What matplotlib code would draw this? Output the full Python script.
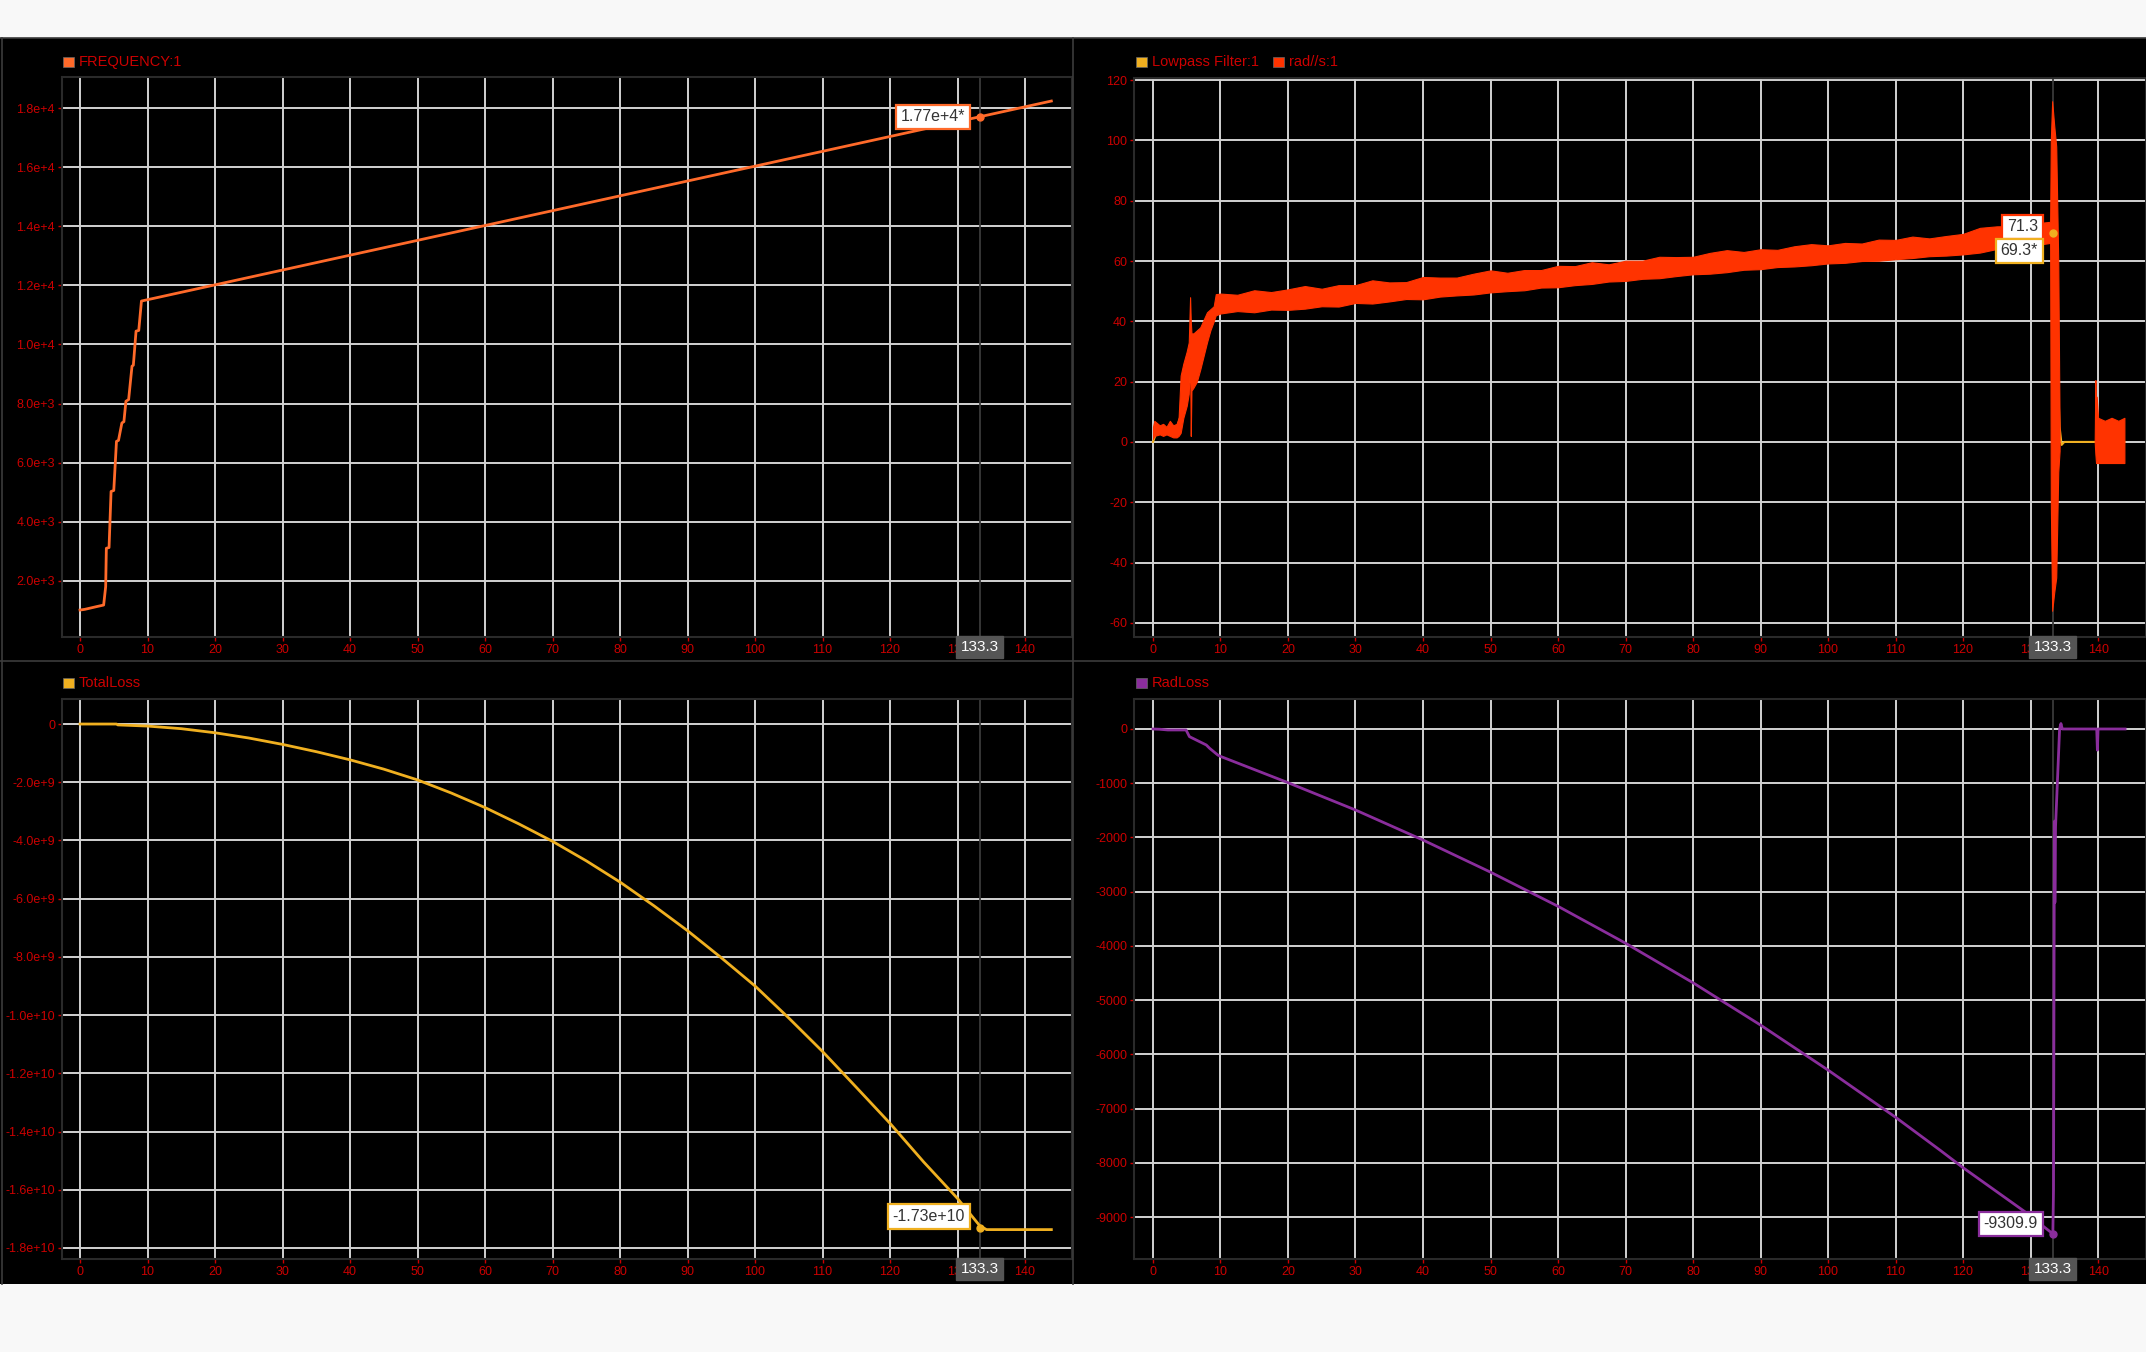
import matplotlib.pyplot as plt
from matplotlib.patches import Rectangle
from matplotlib.lines import Line2D

plt.rcParams['font.family'] = ['Liberation Sans', 'DejaVu Sans']

W, H = 2146, 1352          # output size in pixels
cursor_x = 133.3           # cursor shared by all four plots

# FREQUENCY:1
freq_t = [0, 0.7, 2.4, 3.5, 3.8, 3.9, 4.3, 4.6, 5.0, 5.4, 5.7, 6.2, 6.5, 6.8, 7.2,
          7.7, 7.9, 8.3, 8.7, 9.1, 143.9]
freq_val = [1017, 1040, 1130, 1186, 1808, 3107, 3130, 5028, 5062, 6723, 6757, 7345,
            7390, 8080, 8136, 9266, 9300, 10452, 10475, 11470, 18236]
freq_cursor = 17700

# rad//s:1 (noisy band, upper / lower envelope)
rad_t = [0, 0.2, 1, 1.5, 2, 2.5, 3, 3.5, 3.8, 4.1, 4.5, 5.0, 5.3, 5.5, 5.6, 5.7, 6.0,
         6.5, 7.0, 8.0, 8.5, 9.0, 9.3,
         10, 12.5, 15, 17.5, 20, 22.5, 25, 27.5, 30, 32.5, 35, 37.5, 40, 42.5, 45, 47.5,
         50, 52.5, 55, 57.5, 60, 62.5, 65, 67.5, 70, 72.5, 75, 77.5, 80, 82.5, 85, 87.5,
         90, 92.5, 95, 97.5, 100, 102.5, 105, 107.5, 110, 112.5, 115, 117.5, 120, 122.5,
         125, 127.5, 130, 132.9,
         133.0, 133.2, 133.5, 133.8, 134.1, 134.3]
rad_hi = [5, 7, 5.5, 6, 5, 7, 5.5, 6, 8, 22, 26, 30, 33, 48, 40, 36, 36,
          37, 38, 43, 44, 45, 49,
          49.2, 48.8, 50.3, 49.7, 50.6, 51.7, 50.8, 52.0, 52.0, 53.6, 52.9, 53.0, 54.7,
          54.5, 54.5, 55.8, 56.9, 56.1, 57.0, 57.0, 58.4, 58.3, 59.6, 58.9, 60.1, 60.1,
          61.4, 61.3, 61.4, 62.7, 63.6, 63.0, 63.9, 63.7, 64.9, 65.6, 65.2, 66.0, 65.8,
          67.1, 67.0, 68.1, 67.5, 68.3, 69.0, 71.0, 71.5, 71.6, 72.3, 73.0,
          100, 113, 105, 98, 60, 5]
rad_lo = [1, 2, 2.5, 2, 2.5, 2, 1.5, 1.5, 2, 3, 8, 12, 16, 28, 2, 17, 18,
          20, 24, 33, 37, 40, 42,
          42.6, 43.4, 43.0, 43.9, 43.8, 44.2, 45.0, 44.9, 46.1, 45.9, 46.6, 47.4, 47.3,
          48.2, 48.6, 48.9, 49.6, 50.0, 50.3, 51.2, 51.3, 52.0, 52.4, 53.2, 53.4, 54.1,
          54.3, 55.0, 55.6, 55.8, 56.3, 57.1, 57.3, 58.0, 58.2, 58.6, 59.2, 59.4, 60.0,
          60.1, 60.6, 61.0, 61.6, 61.8, 62.2, 62.8, 64.0, 64.6, 65.0, 66.0,
          -20, -56, -50, -45, -10, -3]
rad_tail_t = [139.5, 139.6, 139.7, 139.8, 140.0, 141, 142, 143, 143.9]
rad_tail_hi = [0, 20.5, 8, 15, 8, 7, 8, 7, 8]
rad_tail_lo = [0, -4, -7, -7, -7, -7, -7, -7, -7]
rad_cursor = 71.3

# Lowpass Filter:1
lp_t = [0, 0.5, 3.5, 4.5, 5.5, 7, 9, 10, 30, 60, 90, 120, 133.3, 133.8, 134.3, 134.6,
        135.0, 139.5, 143.9]
lp_val = [0, 3, 4, 12, 22, 32, 43, 45.5, 48.5, 54.5, 60.5, 65.3, 69.3, 40, 5, -1,
          0, 0, 0]
lp_cursor = 69.3

# TotalLoss
loss_t = [0, 5.4, 5.6, 10, 15, 20, 25, 30, 35, 40, 45, 50, 55, 60, 65, 70, 75, 80, 85,
          90, 95, 100, 105, 110, 115, 120, 125, 130, 133.3, 134.3, 143.9]
loss_val = [0, 0, -0.03e9, -0.07e9, -0.16e9, -0.3e9, -0.48e9, -0.7e9, -0.95e9, -1.23e9,
            -1.55e9, -1.92e9, -2.37e9, -2.87e9, -3.43e9, -4.03e9, -4.7e9, -5.43e9,
            -6.24e9, -7.1e9, -8.03e9, -9.0e9, -10.1e9, -11.25e9, -12.48e9, -13.72e9,
            -15.05e9, -16.3e9, -17.24e9, -17.37e9, -17.37e9]
loss_cursor = -1.73e10

# RadLoss
radloss_t = [0, 1, 2.2, 4.9, 5.4, 7.9, 8.4, 9.6, 10.1, 20, 30, 40, 50, 60, 70, 80, 90,
             100, 110, 116.6, 120, 129.2, 133.3, 133.4, 133.5, 133.55, 133.6, 133.7,
             134.0, 134.3, 134.5, 134.7, 139.8, 139.9, 140.0, 144]
radloss_val = [0, -5, -18, -18, -141, -295, -357, -480, -510, -990, -1494, -2048, -2640,
               -3270, -3950, -4680, -5460, -6290, -7160, -7768, -8090, -8906, -9310,
               -8500, -3300, -1700, -3200, -1800, -900, 0, 100, 0, 0, -390, 0, 0]
radloss_cursor = -9309.9

# axis ticks
x_ticks = list(range(0, 150, 10))
freq_ticks = [2000, 4000, 6000, 8000, 10000, 12000, 14000, 16000, 18000]
freq_ticklabels = ['2.0e+3', '4.0e+3', '6.0e+3', '8.0e+3', '1.0e+4', '1.2e+4', '1.4e+4',
                   '1.6e+4', '1.8e+4']
rad_ticks = [-60, -40, -20, 0, 20, 40, 60, 80, 100, 120]
loss_ticks = [0, -2e9, -4e9, -6e9, -8e9, -1e10, -1.2e10, -1.4e10, -1.6e10, -1.8e10]
loss_ticklabels = ['0', '-2.0e+9', '-4.0e+9', '-6.0e+9', '-8.0e+9', '-1.0e+10', '-1.2e+10',
                   '-1.4e+10', '-1.6e+10', '-1.8e+10']
radloss_ticks = [0, -1000, -2000, -3000, -4000, -5000, -6000, -7000, -8000, -9000]

c_freq = '#ff6a2a'
c_rad = '#ff3300'
c_lp = '#f0b020'
c_loss = '#f0b020'
c_radloss = '#8a2d9c'
c_text = '#cc0000'


def px_axes(fig, left, top, right, bottom):
    # axes from pixel box (origin at top-left of the picture)
    return fig.add_axes([left / W, 1 - bottom / H, (right - left) / W, (bottom - top) / H])


def style_axes(ax, xlim, ylim, yticks, yticklabels):
    ax.set_facecolor('black')
    ax.set_xlim(xlim)
    ax.set_ylim(ylim)
    ax.set_xticks(x_ticks)
    ax.set_yticks(yticks)
    ax.set_yticklabels(yticklabels)
    ax.grid(True, color='#d2d2d2', lw=1.4)
    ax.set_axisbelow(True)
    for sp in ax.spines.values():
        sp.set_color('#2a2a2a')
        sp.set_linewidth(1.5)
    ax.tick_params(colors=c_text, labelsize=9, length=3, width=1, pad=2)
    ax.axvline(cursor_x, color='#3a3a3a', lw=1.3, zorder=1)
    ax.annotate(str(cursor_x), xy=(cursor_x, 0), xycoords=('data', 'axes fraction'),
                xytext=(0, -10), textcoords='offset pixels', ha='center', va='center',
                fontsize=11, color='white', zorder=20, annotation_clip=False,
                bbox=dict(boxstyle='square,pad=0.28', fc='#555555', ec='#555555'))


def value_label(ax, y, text, color, dy=0):
    ax.annotate(text, xy=(cursor_x, y), xytext=(-15, dy), textcoords='offset pixels',
                ha='right', va='center', fontsize=11.5, color='#333333', zorder=15,
                bbox=dict(boxstyle='square,pad=0.3', fc='white', ec=color, lw=1.6))


def legend_item(fig, x, y, color, label):
    fig.add_artist(Rectangle((x / W, 1 - (y + 5) / H), 11 / W, 10 / H,
                             transform=fig.transFigure, fc=color, ec='#666666', lw=0.5))
    fig.text((x + 16) / W, 1 - y / H, label, color=c_text, fontsize=10.5,
             ha='left', va='center')


fig = plt.figure(figsize=(W / 100, H / 100), dpi=100, facecolor='#f8f8f8')

# black dashboard area and panel dividers
fig.add_artist(Rectangle((0, 1 - 1284 / H), 1, (1284 - 38) / H, transform=fig.transFigure,
                         fc='black', ec='none', zorder=-10))
for xs, ys in [([1073, 1073], [38, 1284]), ([0, W], [661, 661]), ([2, 2], [38, 1284]),
               ([0, W], [38, 38])]:
    fig.add_artist(Line2D([x / W for x in xs], [1 - y / H for y in ys],
                          transform=fig.transFigure, color='#3c3c3c', lw=1.2))

# Top left: FREQUENCY
ax1 = px_axes(fig, 62, 77, 1072, 637)
style_axes(ax1, (-2.67, 146.96), (105, 19049), freq_ticks, freq_ticklabels)
ax1.plot(freq_t, freq_val, color=c_freq, lw=2, zorder=3)
ax1.plot([cursor_x], [freq_cursor], 'o', color=c_freq, ms=5, zorder=4)
value_label(ax1, freq_cursor, '1.77e+4*', c_freq)
legend_item(fig, 63, 62, c_freq, 'FREQUENCY:1')

# Top right: Lowpass filter + rad/s
ax2 = px_axes(fig, 1134, 78, W, 637)
style_axes(ax2, (-2.81, 147.1), (-64.7, 120.7), rad_ticks, [str(v) for v in rad_ticks])
ax2.plot(lp_t, lp_val, color=c_lp, lw=1.5, zorder=3)
ax2.fill_between(rad_t, rad_lo, rad_hi, color=c_rad, lw=0.8, zorder=4)
ax2.fill_between(rad_tail_t, rad_tail_lo, rad_tail_hi, color=c_rad, lw=0.8, zorder=4)
ax2.plot([cursor_x], [lp_cursor], 'o', color=c_lp, ms=5, zorder=5)
value_label(ax2, rad_cursor, '71.3', c_rad)
value_label(ax2, rad_cursor, '69.3*', c_lp, dy=-24)
legend_item(fig, 1136, 62, c_lp, 'Lowpass Filter:1')
legend_item(fig, 1273, 62, c_rad, 'rad//s:1')

# Bottom left: TotalLoss
ax3 = px_axes(fig, 62, 699, 1072, 1259)
style_axes(ax3, (-2.67, 146.96), (-1.838e10, 8.6e8), loss_ticks, loss_ticklabels)
ax3.plot(loss_t, loss_val, color=c_loss, lw=2, zorder=3)
ax3.plot([cursor_x], [loss_cursor], 'o', color=c_loss, ms=5, zorder=4)
value_label(ax3, loss_cursor, '-1.73e+10', c_loss, dy=11)
legend_item(fig, 63, 683, c_loss, 'TotalLoss')

# Bottom right: RadLoss
ax4 = px_axes(fig, 1134, 699, W, 1259)
style_axes(ax4, (-2.81, 147.1), (-9774, 553), radloss_ticks, [str(v) for v in radloss_ticks])
ax4.plot(radloss_t, radloss_val, color=c_radloss, lw=2, zorder=3)
ax4.plot([cursor_x], [radloss_cursor], 'o', color=c_radloss, ms=5, zorder=4)
value_label(ax4, radloss_cursor, '-9309.9', c_radloss, dy=10)
legend_item(fig, 1136, 683, c_radloss, 'RadLoss')

plt.savefig('out.png', dpi=100, facecolor=fig.get_facecolor())
